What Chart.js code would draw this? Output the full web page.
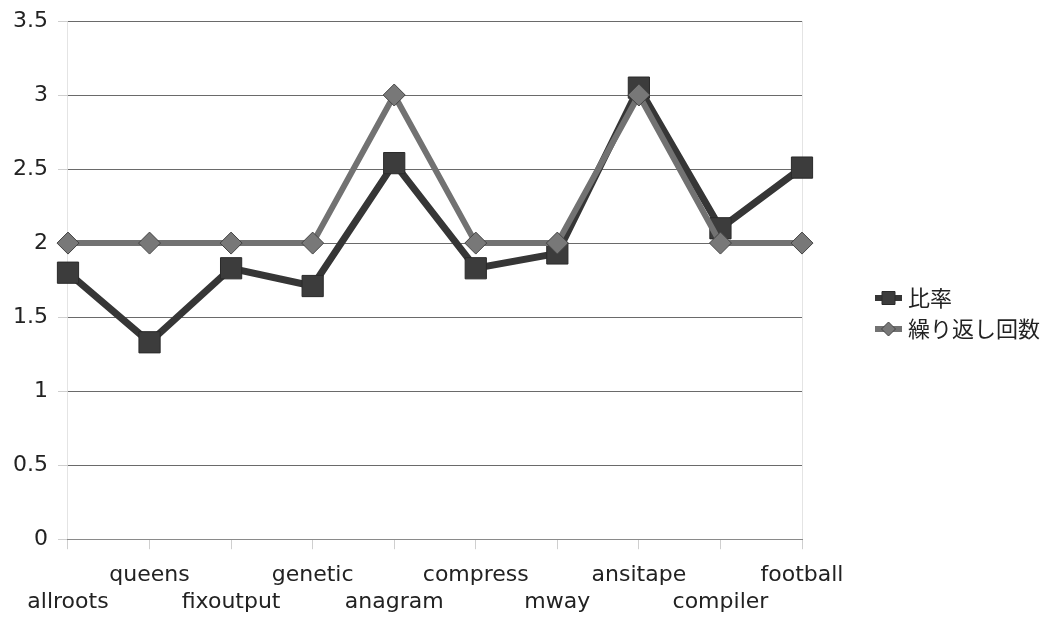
<!DOCTYPE html>
<html>
<head>
<meta charset="utf-8">
<script src="https://cdn.jsdelivr.net/npm/chart.js@4/dist/chart.umd.min.js"></script>
<style>
  html, body { margin: 0; padding: 0; background: #ffffff; }
  #wrap { width: 1046px; height: 617px; }
</style>
</head>
<body>
<div id="wrap"><canvas id="c" width="1046" height="617"></canvas></div>
<script>
// Benchmark programs along the x axis
const categories = ['allroots', 'queens', 'fixoutput', 'genetic', 'anagram',
                    'compress', 'mway', 'ansitape', 'compiler', 'football'];
// 比率
const ratioValues = [1.80, 1.33, 1.83, 1.71, 2.54, 1.83, 1.93, 3.05, 2.10, 2.51];
// 繰り返し回数
const repeatCounts = [2, 2, 2, 2, 3, 2, 2, 3, 2, 2];
// Series names
const seriesNames = ['比率', '繰り返し回数'];
// y axis range
const yMin = 0, yMax = 3.5, yStep = 0.5;

const LATIN_FONT = '"DejaVu Sans", sans-serif';
const CJK_FONT = '"Noto Sans CJK JP", sans-serif';

// Alternate the category labels between two rows so they do not collide
const xLabels = categories.map((name, i) => (i % 2 === 1 ? [name, ''] : ['', name]));

// Legend drawn at the right, each entry as a short line with its marker
const sideLegend = {
  id: 'sideLegend',
  afterDraw(chart) {
    const ctx = chart.ctx;
    const x0 = 875, rows = [298, 329];
    chart.data.datasets.forEach((ds, i) => {
      const y = rows[i];
      ctx.save();
      ctx.strokeStyle = ds.borderColor;
      ctx.lineWidth = 6;
      ctx.beginPath();
      ctx.moveTo(x0, y);
      ctx.lineTo(x0 + 27, y);
      ctx.stroke();
      ctx.fillStyle = ds.pointBackgroundColor;
      ctx.strokeStyle = ds.pointBorderColor;
      ctx.lineWidth = 1;
      const cx = x0 + 13.5;
      ctx.beginPath();
      if (ds.pointStyle === 'rect') {
        ctx.rect(cx - 6.5, y - 6.5, 13, 13);
      } else {
        ctx.moveTo(cx - 7, y); ctx.lineTo(cx, y - 7);
        ctx.lineTo(cx + 7, y); ctx.lineTo(cx, y + 7);
        ctx.closePath();
      }
      ctx.fill();
      ctx.stroke();
      ctx.fillStyle = '#222';
      ctx.font = '22px ' + CJK_FONT;
      ctx.textBaseline = 'middle';
      ctx.textAlign = 'left';
      ctx.fillText(ds.label, x0 + 33, y);
      ctx.restore();
    });
  }
};

new Chart(document.getElementById('c'), {
  type: 'line',
  data: {
    labels: xLabels,
    datasets: [
      {
        label: seriesNames[0],
        data: ratioValues,
        borderColor: '#363636',
        borderWidth: 7,
        pointStyle: 'rect',
        pointRadius: 15,
        pointHoverRadius: 15,
        pointBackgroundColor: '#3c3c3c',
        pointBorderColor: '#2a2a2a',
        pointBorderWidth: 1,
        tension: 0,
        order: 2
      },
      {
        label: seriesNames[1],
        data: repeatCounts,
        borderColor: '#727272',
        borderWidth: 6,
        pointStyle: 'rectRot',
        pointRadius: 11,
        pointHoverRadius: 11,
        pointBackgroundColor: '#787878',
        pointBorderColor: '#444444',
        pointBorderWidth: 1,
        tension: 0,
        order: 1
      }
    ]
  },
  options: {
    responsive: false,
    animation: false,
    devicePixelRatio: 1,
    layout: { padding: { left: 3, right: 244, top: 2, bottom: -11 } },
    plugins: {
      legend: { display: false },
      tooltip: { enabled: false }
    },
    scales: {
      x: {
        offset: false,
        grid: {
          drawOnChartArea: true,
          color: (c) => (c.index === 0 || c.index === categories.length - 1) ? '#e4e4e4' : 'rgba(0,0,0,0)',
          tickColor: '#cfcfcf',
          tickLength: 10
        },
        border: { display: true, color: '#8a8a8a' },
        ticks: {
          color: '#222',
          font: { family: LATIN_FONT, size: 22, lineHeight: 1.2 },
          padding: 13,
          maxRotation: 0,
          autoSkip: false
        }
      },
      y: {
        min: yMin,
        max: yMax,
        grid: {
          color: '#6a6a6a',
          tickColor: '#cfcfcf',
          tickLength: 10
        },
        border: { display: false },
        ticks: {
          stepSize: yStep,
          color: '#222',
          font: { family: LATIN_FONT, size: 22, lineHeight: 1.0 },
          padding: 10,
          callback: (v) => String(+v.toFixed(1))
        }
      }
    }
  },
  plugins: [sideLegend]
});
</script>
</body>
</html>
